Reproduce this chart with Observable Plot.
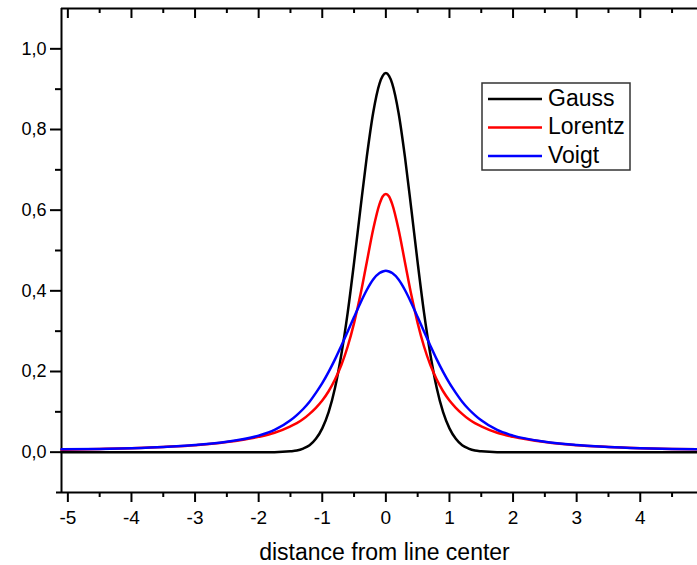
<!DOCTYPE html>
<html>
<head>
<meta charset="utf-8">
<script src="https://cdn.jsdelivr.net/npm/d3@7"></script>
<script src="https://cdn.jsdelivr.net/npm/@observablehq/plot@0.6"></script>
<style>
  html, body { margin: 0; padding: 0; background: #fff; }
  #chart { width: 697px; height: 565px; }
</style>
</head>
<body>
<div id="chart"></div>
<script>
// ---- data ----
const xs      = [-5.1, -4.5, -4, -3.5, -3, -2.5, -2, -1.75, -1.5, -1.4, -1.3, -1.2, -1.1, -1.0, -0.9, -0.8, -0.7, -0.6, -0.5, -0.4, -0.3, -0.2, -0.1, -0.05, 0, 0.05, 0.1, 0.2, 0.3, 0.4, 0.5, 0.6, 0.7, 0.8, 0.9, 1.0, 1.1, 1.2, 1.3, 1.4, 1.5, 1.75, 2, 2.5, 3, 3.5, 4, 4.5, 4.9];
const gauss   = [0, 0, 0, 0, 0, 0, 0, 0.000, 0.002, 0.004, 0.009, 0.017, 0.033, 0.059, 0.099, 0.159, 0.242, 0.346, 0.470, 0.603, 0.732, 0.841, 0.914, 0.933, 0.940, 0.933, 0.914, 0.841, 0.732, 0.603, 0.470, 0.346, 0.242, 0.159, 0.099, 0.059, 0.033, 0.017, 0.009, 0.004, 0.002, 0.000, 0, 0, 0, 0, 0, 0, 0];
const lorentz = [0.006, 0.008, 0.010, 0.013, 0.017, 0.025, 0.038, 0.048, 0.064, 0.072, 0.082, 0.095, 0.110, 0.128, 0.151, 0.180, 0.216, 0.262, 0.320, 0.390, 0.471, 0.552, 0.615, 0.634, 0.640, 0.634, 0.615, 0.552, 0.471, 0.390, 0.320, 0.262, 0.216, 0.180, 0.151, 0.128, 0.110, 0.095, 0.082, 0.072, 0.064, 0.048, 0.038, 0.025, 0.017, 0.013, 0.010, 0.008, 0.007];
const voigt   = [0.007, 0.008, 0.010, 0.013, 0.018, 0.026, 0.041, 0.055, 0.079, 0.092, 0.107, 0.125, 0.147, 0.171, 0.199, 0.230, 0.264, 0.299, 0.335, 0.370, 0.402, 0.428, 0.444, 0.448, 0.450, 0.448, 0.444, 0.428, 0.402, 0.370, 0.335, 0.299, 0.264, 0.230, 0.199, 0.171, 0.147, 0.125, 0.107, 0.092, 0.079, 0.055, 0.041, 0.026, 0.018, 0.013, 0.010, 0.008, 0.007];

const seriesNames  = ["Gauss", "Lorentz", "Voigt"];
const seriesColors = ["#000000", "#ff0000", "#0000ff"];

const xTicks = [-5, -4, -3, -2, -1, 0, 1, 2, 3, 4];
const xMinor = [-4.5, -3.5, -2.5, -1.5, -0.5, 0.5, 1.5, 2.5, 3.5, 4.5];
const yTicks = [0, 0.2, 0.4, 0.6, 0.8, 1.0];
const yMinor = [0.1, 0.3, 0.5, 0.7, 0.9];
const xDomain = [-5.1, 4.9];
const yDomain = [-0.1, 1.1];
const xLabel = "distance from line center";

// ---- build ----
const seriesValues = [gauss, lorentz, voigt];
const rows = seriesValues.map(vals => xs.map((x, i) => ({x, y: vals[i]})));

const W = 697, H = 565;
const mTop = 8, mLeft = 61, mRight = 0, mBottom = 73;
const frameH = H - mTop - mBottom;
const fmtY = d => d.toFixed(1).replace(".", ",");
const FONT = "'Liberation Sans', Arial, sans-serif";

const plot = Plot.plot({
  width: W,
  height: H,
  marginTop: mTop,
  marginLeft: mLeft,
  marginRight: mRight,
  marginBottom: mBottom,
  style: {fontFamily: FONT, fontSize: "18px", background: "#fff", color: "#000", overflow: "visible"},
  x: {domain: xDomain, label: null},
  y: {domain: yDomain, label: null},
  marks: [
    // frame lines
    Plot.ruleX([xDomain[0]], {stroke: "#000", strokeWidth: 2}),
    Plot.ruleY([yDomain[1]], {stroke: "#000", strokeWidth: 2}),
    Plot.ruleY([yDomain[0]], {stroke: "#000", strokeWidth: 2, insetLeft: -5}),
    // bottom axis
    Plot.axisX(xTicks, {anchor: "bottom", tickSize: 10, tickPadding: 8, strokeWidth: 2, tickFormat: d => String(d), fontSize: 19, label: null}),
    Plot.axisX(xMinor, {anchor: "bottom", tickSize: 5, strokeWidth: 2, tickFormat: () => "", label: null}),
    // top inward ticks
    Plot.tickX(xTicks, {x: d => d, insetBottom: frameH - 10, stroke: "#000", strokeWidth: 2}),
    Plot.tickX(xMinor, {x: d => d, insetBottom: frameH - 5, stroke: "#000", strokeWidth: 2}),
    // left axis
    Plot.axisY(yTicks, {anchor: "left", tickSize: 11, tickPadding: 4, strokeWidth: 2, tickFormat: fmtY, fontSize: 18, label: null}),
    Plot.axisY(yMinor, {anchor: "left", tickSize: 6, strokeWidth: 2, tickFormat: () => "", label: null}),
    // curves
    ...rows.map((r, i) => Plot.line(r, {x: "x", y: "y", stroke: seriesColors[i], strokeWidth: 2.5, curve: "monotone-x"})),
    // x label
    Plot.text([xLabel], {text: d => d, frameAnchor: "bottom", dx: 5, dy: 67, lineAnchor: "bottom", fontSize: 23})
  ]
});

document.getElementById("chart").appendChild(plot);

// legend
const svg = d3.select(plot);
const lg = svg.append("g").attr("font-family", FONT).attr("text-anchor", "start");
lg.append("rect").attr("x", 482).attr("y", 83).attr("width", 148).attr("height", 87)
  .attr("fill", "#fff").attr("stroke", "#333").attr("stroke-width", 1.5);
seriesNames.forEach((name, i) => {
  const ly = 99 + i * 28.5;
  lg.append("line").attr("x1", 488).attr("x2", 542).attr("y1", ly).attr("y2", ly)
    .attr("stroke", seriesColors[i]).attr("stroke-width", 2.5);
  lg.append("text").attr("x", 548).attr("y", ly + 6.5).attr("font-size", 23)
    .attr("text-anchor", "start").attr("fill", "#000").text(name);
});
</script>
</body>
</html>
